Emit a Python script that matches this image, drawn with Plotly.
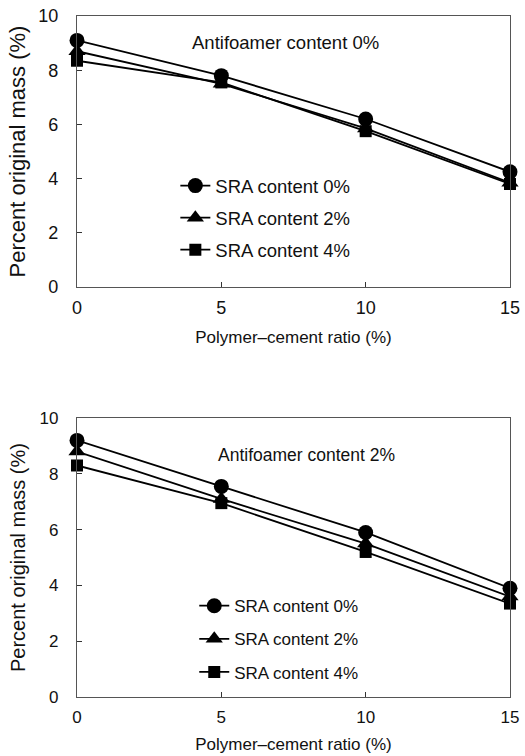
import plotly.graph_objects as go

ratio = [0, 5, 10, 15]
series_names = ["SRA content 0%", "SRA content 2%", "SRA content 4%"]
symbols = ["circle", "triangle-up", "square"]
sizes = [15, 15, 12]

top_vals = {
    "SRA content 0%": [9.1, 7.8, 6.2, 4.25],
    "SRA content 2%": [8.7, 7.5, 5.85, 3.85],
    "SRA content 4%": [8.35, 7.55, 5.75, 3.8],
}
bot_vals = {
    "SRA content 0%": [9.2, 7.55, 5.9, 3.9],
    "SRA content 2%": [8.8, 7.1, 5.5, 3.6],
    "SRA content 4%": [8.3, 6.95, 5.2, 3.35],
}
titles = ["Antifoamer content 0%", "Antifoamer content 2%"]
x_title = "Polymer\u2013cement ratio (%)"
y_title = "Percent original mass (%)"

fig = go.Figure()
for i, name in enumerate(series_names):
    fig.add_trace(go.Scatter(
        x=ratio, y=top_vals[name], name=name, mode="lines+markers",
        line=dict(color="black", width=1.8),
        marker=dict(symbol=symbols[i], size=sizes[i], color="black"),
        xaxis="x", yaxis="y", legend="legend", legendgroup="t%d" % i,
        cliponaxis=False))
for i, name in enumerate(series_names):
    fig.add_trace(go.Scatter(
        x=ratio, y=bot_vals[name], name=name, mode="lines+markers",
        line=dict(color="black", width=1.8),
        marker=dict(symbol=symbols[i], size=sizes[i], color="black"),
        xaxis="x2", yaxis="y2", legend="legend2", legendgroup="b%d" % i,
        cliponaxis=False))

font = "Liberation Sans, Arial, sans-serif"


def ax(size):
    return dict(showgrid=False, zeroline=False, showline=True, mirror=True,
                linecolor="#555", linewidth=1.2, ticks="inside", ticklen=5,
                tickcolor="#333", automargin=False,
                tickfont=dict(size=size, color="#111", family=font))


fig.update_layout(
    width=525, height=756, paper_bgcolor="white", plot_bgcolor="white",
    margin=dict(l=0, r=0, t=0, b=0),
    font=dict(family=font, color="#111"),
    xaxis=dict(domain=[0.1467, 0.9714], range=[0, 15], tickvals=[0, 5, 10, 15],
               anchor="y", title=dict(text=x_title, font=dict(size=17), standoff=14),
               ticklabelstandoff=4, **ax(18)),
    yaxis=dict(domain=[0.6204, 0.9788], range=[0, 10], tickvals=[0, 2, 4, 6, 8, 10],
               anchor="x", title=dict(text=y_title, font=dict(size=22), standoff=6),
               ticklabelstandoff=14, **ax(18)),
    xaxis2=dict(domain=[0.1467, 0.9714], range=[0, 15], tickvals=[0, 5, 10, 15],
                anchor="y2", title=dict(text=x_title, font=dict(size=17), standoff=12),
                ticklabelstandoff=4, **ax(17)),
    yaxis2=dict(domain=[0.078, 0.447], range=[0, 10], tickvals=[0, 2, 4, 6, 8, 10],
                anchor="x2", title=dict(text=y_title, font=dict(size=20), standoff=8),
                ticklabelstandoff=14, **ax(17)),
    legend=dict(x=0.334, y=0.779, xanchor="left", yanchor="top",
                bgcolor="rgba(0,0,0,0)", font=dict(size=18.5, family=font),
                tracegroupgap=5),
    legend2=dict(x=0.37, y=0.222, xanchor="left", yanchor="top",
                 bgcolor="rgba(0,0,0,0)", font=dict(size=17, family=font),
                 tracegroupgap=8),
    annotations=[
        dict(text=titles[0], xref="paper", yref="paper", x=285 / 525, y=1 - 43 / 756,
             xanchor="center", yanchor="middle",
             showarrow=False, font=dict(size=18.5, family=font)),
        dict(text=titles[1], xref="paper", yref="paper", x=306 / 525, y=1 - 455 / 756,
             xanchor="center", yanchor="middle",
             showarrow=False, font=dict(size=17.5, family=font)),
    ],
)

fig.write_html(
    "out.html",
    config={"displayModeBar": False},
    post_script="document.body.style.margin='0';document.body.style.overflow='hidden';",
)
